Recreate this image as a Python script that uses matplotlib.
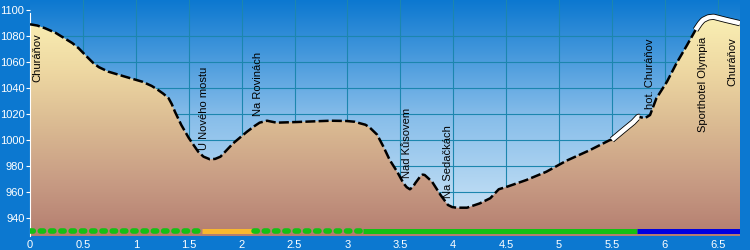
import numpy as np
import matplotlib
matplotlib.use("Agg")
import matplotlib.pyplot as plt
from matplotlib.colors import LinearSegmentedColormap
from matplotlib.patches import Polygon

plt.rcParams['font.family'] = ['Liberation Sans', 'DejaVu Sans']

# elevation profile (km, m)
dist_km = [0.00, 0.07, 0.14, 0.24, 0.33, 0.40, 0.46, 0.55, 0.60, 0.65,
           0.74, 0.90, 1.06, 1.15, 1.21, 1.26, 1.31, 1.34, 1.37, 1.43,
           1.50, 1.55, 1.59, 1.64, 1.70, 1.75, 1.80, 1.92, 2.05, 2.12,
           2.17, 2.24, 2.33, 2.52, 2.84, 2.99, 3.07, 3.12, 3.17, 3.21,
           3.28, 3.34, 3.40, 3.47, 3.53, 3.56, 3.59, 3.62, 3.64, 3.69,
           3.71, 3.73, 3.80, 3.88, 3.95, 3.99, 4.03, 4.13, 4.25, 4.35,
           4.43, 4.51, 4.69, 4.88, 5.07, 5.29, 5.48, 5.50, 5.61, 5.70,
           5.75, 5.81, 5.86, 5.92, 6.02, 6.11, 6.21, 6.29, 6.33, 6.36,
           6.41, 6.46, 6.58, 6.71]
elev_m = [1089, 1088, 1086, 1082.5, 1078, 1074.5, 1070.5, 1063, 1059, 1056,
          1052.5, 1048.6, 1044.8, 1041.5, 1038.4, 1035.5, 1032, 1027.5, 1021.6, 1011.4,
          1001.5, 995.5, 990.8, 987, 985, 985.3, 987, 997.3, 1006.2, 1010.5,
          1013.2, 1014.7, 1013.2, 1013.7, 1014.7, 1014.5, 1013.9, 1012.7, 1011.6, 1009.5,
          1004, 994.7, 984.4, 975.4, 966.5, 963.5, 961.9, 963.8, 966.5, 972.0,
          973.2, 972.9, 967.7, 957.5, 949.8, 948.2, 947.7, 947.7, 951, 955,
          961.9, 963.9, 969, 975.4, 983.9, 992, 999.8, 1000, 1007.5, 1013.5,
          1017.8, 1016.6, 1019.1, 1032, 1044.8, 1059, 1073, 1084.6, 1089.5, 1092.3,
          1094.3, 1094.8, 1092.3, 1089.8]

# parts of the route drawn as white road
road_parts = [(5.50, 5.76), (6.29, 6.71)]

# surface strip along the bottom: (start, end, colour, dotted)
strip_parts = [(0.00, 1.63, '#14C014', True),
               (1.63, 2.12, '#F8B830', False),
               (2.12, 3.15, '#14C014', True),
               (3.15, 5.74, '#14C014', False),
               (5.74, 6.71, '#0000E0', False)]

# waypoint labels: km, top of text (m)
label_names = ['Churáňov', 'U Nového mostu', 'Na Rovinách', 'Nad Kůsovem',
               'Na Sedačkách', 'hot. Churáňov', 'Sporthotel Olympia', 'Churáňov']
label_km = [0.071, 1.645, 2.155, 3.563, 3.951, 5.86, 6.36, 6.635]
label_top = [1082.3, 1056.1, 1067.6, 1024.5, 1011.4, 1078.4, 1079.2, 1079.2]

xmax = 6.71
ymin, ymax = 925.9, 1107.7
bg = '#0C78D0'

fig = plt.figure(figsize=(7.5, 2.5), dpi=100, facecolor=bg)
ax = fig.add_axes([30 / 750, 14 / 250, 710 / 750, 236 / 250])
ax.set_facecolor(bg)

# sky gradient
sky = LinearSegmentedColormap.from_list('sky', ['#D6EAF8', '#88BEEA', '#0C78D0'])
grad = np.linspace(0, 1, 256).reshape(-1, 1)
ax.imshow(grad, extent=[0, xmax, ymin, ymax], origin='lower', aspect='auto',
          cmap=sky, zorder=0, interpolation='bilinear')

# grid
for gx in np.arange(0.5, xmax, 0.5):
    ax.axvline(gx, color='#1C86AE', lw=0.8, zorder=1)
for gy in range(940, 1100, 20):
    ax.axhline(gy, color='#1C86AE', lw=0.8, zorder=1)

# ground gradient clipped to profile
ground = LinearSegmentedColormap.from_list(
    'ground', ['#B47E70', '#C89C84', '#DABA92', '#EED8A2', '#FAF0B4'])
poly_xy = list(zip(dist_km, elev_m)) + [(xmax, ymin - 5), (0, ymin - 5)]
poly = Polygon(poly_xy, closed=True, facecolor='none', edgecolor='none')
ax.add_patch(poly)
gimg = ax.imshow(grad, extent=[0, xmax, ymin, 1096], origin='lower', aspect='auto',
                 cmap=ground, zorder=2, interpolation='bilinear')
gimg.set_clip_path(poly)

# profile line
ax.plot(dist_km, elev_m, color='black', lw=1.8, dashes=(4, 1.3), zorder=3,
        solid_joinstyle='round')
d = np.array(dist_km)
e = np.array(elev_m)
for a, b in road_parts:
    xs = np.linspace(a, b, 40)
    ys = np.interp(xs, d, e)
    ax.plot(xs, ys, color='black', lw=4.4, solid_capstyle='butt', zorder=4)
    ax.plot(xs, ys, color='white', lw=3.2, solid_capstyle='butt', zorder=4)

# surface strip
strip_y = 929.5
for a, b, col, dotted in strip_parts:
    if dotted:
        ax.plot([a, b], [strip_y, strip_y], color=col, lw=4.0,
                dashes=(0.6, 1.25), dash_capstyle='round', zorder=5)
    else:
        ax.plot([a, b], [strip_y, strip_y], color=col, lw=3.6,
                solid_capstyle='butt', zorder=5)

# labels
for name, lx, ly in zip(label_names, label_km, label_top):
    ax.text(lx, ly, name, rotation=90, ha='center', va='top', fontsize=8,
            color='black', zorder=6)

ax.set_xlim(0, xmax)
ax.set_ylim(ymin, ymax)
ax.set_xticks(np.arange(0, 6.6, 0.5))
ax.set_xticklabels(['%g' % v for v in np.arange(0, 6.6, 0.5)])
ax.set_yticks(range(940, 1101, 20))
ax.tick_params(axis='y', colors='white', labelsize=8, length=3, width=0.8, pad=1)
ax.tick_params(axis='x', colors='white', labelsize=8, length=0, pad=3)
for s in ['top', 'right', 'bottom']:
    ax.spines[s].set_visible(False)
ax.spines['left'].set_color('white')
ax.spines['left'].set_bounds(ymin, 1098)

fig.savefig('out.png', dpi=100, facecolor=bg)
